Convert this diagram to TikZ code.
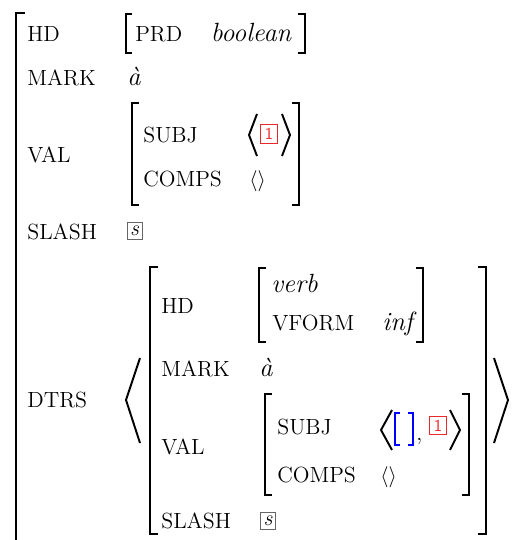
\documentclass[tikz,border=0pt]{standalone}
\usepackage{amsmath,amssymb}
\definecolor{tagred}{RGB}{235,40,40}
\tikzset{
  attr/.style={anchor=base west,inner sep=0pt},
  atom/.style={anchor=base,inner sep=0pt,font=\fontsize{15}{18}\selectfont\itshape},
  brk/.style={line width=1.1pt},
  tagbox/.style={draw=tagred,text=tagred,inner sep=0pt,minimum width=10pt,minimum height=11pt,font=\sffamily\fontsize{9.5}{10}\selectfont},
  slashbox/.style={draw=black!60,inner sep=0pt,minimum width=8.5pt,minimum height=9.5pt,font=\itshape}
}
\begin{document}
\fontsize{12.5}{15}\selectfont
\begin{tikzpicture}[x=0.02cm,y=-0.02cm]
\useasboundingbox (0,0) rectangle (511,540);
% outer matrix
\node[attr] (hd) at (27,42) {HD};
\node[attr] (prd) at (135,42) {PRD};
\node[atom] (bool) at (251,42) {boolean};
\node[attr] (mark) at (27,86) {MARK};
\node[atom,anchor=base west] (a1) at (127,86) {à};
\node[attr] (val) at (27,163) {VAL};
\node[attr] (subj) at (143,143) {SUBJ};
\node[tagbox] (tag1) at (269,134) {1};
\node[attr] (comps) at (143,187) {COMPS};
\node[attr] (nil1) at (249,187) {$\langle\rangle$};
\node[attr] (slash) at (27,239) {SLASH};
\node[slashbox] (s1) at (134.5,231) {s};
\node[attr] (dtrs) at (27,407) {DTRS};
% daughter
\node[attr] (dhd) at (161,313) {HD};
\node[atom,anchor=base west] (verb) at (271,292) {verb};
\node[attr] (vform) at (272,330) {VFORM};
\node[atom] (inf) at (397.5,330) {inf};
\node[attr] (dmark) at (161,376) {MARK};
\node[atom,anchor=base west] (a2) at (259,376) {à};
\node[attr] (dval) at (161,454) {VAL};
\node[attr] (dsubj) at (277,434) {SUBJ};
\node[attr] (comma) at (416,440) {,};
\node[tagbox,minimum height=10pt] (tag2) at (438,425.5) {1};
\node[attr] (dcomps) at (277,482) {COMPS};
\node[attr] (nil2) at (380,482) {$\langle\rangle$};
\node[attr] (dslash) at (161,528) {SLASH};
\node[slashbox] (s2) at (268,521) {s};

% brackets
\draw[brk] (25,13) -- (16,13) -- (16,541);
\draw[brk] (132,14) -- (126,14) -- (126,53) -- (132,53);
\draw[brk] (298,14) -- (305,14) -- (305,53) -- (298,53);
\draw[brk] (139,103) -- (132,103) -- (132,205) -- (139,205);
\draw[brk] (292,103) -- (299,103) -- (299,205) -- (292,205);
\draw[brk] (257,114) -- (249,135) -- (257,156);
\draw[brk] (282,114) -- (290,135) -- (282,156);
\draw[brk] (140,358) -- (126,400) -- (140,443);
\draw[brk] (494,358) -- (508,400) -- (494,443);
\draw[brk] (158,267) -- (150,267) -- (150,534) -- (158,534);
\draw[brk] (478,267) -- (486,267) -- (486,534) -- (478,534);
\draw[brk] (266,268) -- (259,268) -- (259,342) -- (266,342);
\draw[brk] (416,268) -- (423,268) -- (423,342) -- (416,342);
\draw[brk] (272,394) -- (265,394) -- (265,495) -- (272,495);
\draw[brk] (462,394) -- (469,394) -- (469,495) -- (462,495);
\draw[brk] (392,410) -- (381,430) -- (392,450);
\draw[brk] (450,410) -- (460,430) -- (450,450);
\draw[brk,blue] (400,413) -- (395,413) -- (395,445) -- (400,445);
\draw[brk,blue] (408,413) -- (413,413) -- (413,445) -- (408,445);
\end{tikzpicture}
\end{document}
